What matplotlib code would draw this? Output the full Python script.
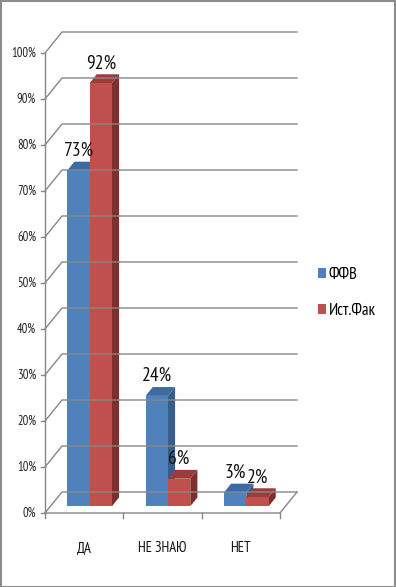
import matplotlib
matplotlib.use('Agg')
import matplotlib.pyplot as plt
from matplotlib.patches import Polygon, Rectangle, Patch
from matplotlib import font_manager as fm

categories = ['ДА', 'НЕ ЗНАЮ', 'НЕТ']
series_names = ['ФФВ', 'Ист.Фак']
ffv = [73, 24, 3]
istfak = [92, 6, 2]
yticks = [0, 10, 20, 30, 40, 50, 60, 70, 80, 90, 100]

# narrow font, like the Calibri of the original
names = {f.name for f in fm.fontManager.ttflist}
narrow = [n for n in ['PT Sans Narrow', 'Roboto Condensed', 'Carlito'] if n in names]
plt.rcParams['font.family'] = narrow[:1] + ['DejaVu Sans']
plt.rcParams['font.stretch'] = 'condensed'

W, H = 396, 587
fig = plt.figure(figsize=(W / 100, H / 100), dpi=100)

# front plane: x 0..3 -> px 45..280, y 0..100 -> px 513..53
sx = 235 / 3.0      # px per category unit
sy = 460 / 100.0    # px per percent
ax = fig.add_axes([45 / W, (H - 513) / H, 256 / W, 490 / H])
ax.set_xlim(0, 256 / sx)
ax.set_ylim(0, 490 / sy)
ax.axis('off')

DX, DY = 17 / sx, 21 / sy   # depth of the 3d box
grid_c = '#878787'

# walls / gridlines
for t in yticks:
    ax.plot([0, DX, 3 + DX], [t, t + DY, t + DY], color=grid_c, lw=1, clip_on=False)
    ax.plot([-4 / sx, 0], [t, t], color=grid_c, lw=1, clip_on=False)
    ax.text(-9 / sx, t, f'{t}%', ha='right', va='center', fontsize=9, color='#222222')
ax.plot([0, 0], [0, 100], color=grid_c, lw=1, clip_on=False)
ax.plot([0, 3, 3 + DX], [0, 0, DY], color=grid_c, lw=1, clip_on=False)
for i in range(4):
    ax.plot([i, i], [0, -5 / sy], color=grid_c, lw=1, clip_on=False)

# bars
w = 0.285
f0, fd = 0.32, 0.42
ox, oy = f0 * DX, f0 * DY
bx, by = fd * DX, fd * DY
colors = [('#4F81BD', '#385D8A', '#3E6AA3'), ('#C0504D', '#7E2E2C', '#9B3C3A')]

for i, cat in enumerate(categories):
    for k, vals in enumerate([ffv, istfak]):
        v = vals[i]
        front, side, top = colors[k]
        x0 = i + 0.5 - w + k * w + ox
        x1 = x0 + w
        ax.add_patch(Polygon([(x1, oy), (x1 + bx, oy + by), (x1 + bx, v + oy + by), (x1, v + oy)],
                             closed=True, fc=side, ec='none', clip_on=False))
        ax.add_patch(Polygon([(x0, v + oy), (x1, v + oy), (x1 + bx, v + oy + by), (x0 + bx, v + oy + by)],
                             closed=True, fc=top, ec='none', clip_on=False))
        ax.add_patch(Rectangle((x0, oy), w, v, fc=front, ec='none', clip_on=False))
        ax.text((x0 + x1) / 2, v + oy + by + 0.4, f'{v}%', ha='center', va='bottom',
                fontsize=14, color='#111111')
    ax.text(i + 0.5, -35 / sy, cat, ha='center', va='center', fontsize=10.5, color='#111111')

handles = [Patch(fc=colors[k][0], ec='none') for k in range(2)]
fig.legend(handles, series_names, loc='center left', bbox_to_anchor=(303 / W, 1 - 293 / H),
           frameon=False, fontsize=12, handlelength=0.5, handleheight=0.6,
           handletextpad=0.15, labelspacing=1.2)

fig.patches.append(Rectangle((0.5 / W, 0.5 / H), 1 - 1.5 / W, 1 - 1.5 / H, transform=fig.transFigure,
                             fill=False, ec='#8c8c8c', lw=1.5))

fig.savefig('out.png', dpi=100)
